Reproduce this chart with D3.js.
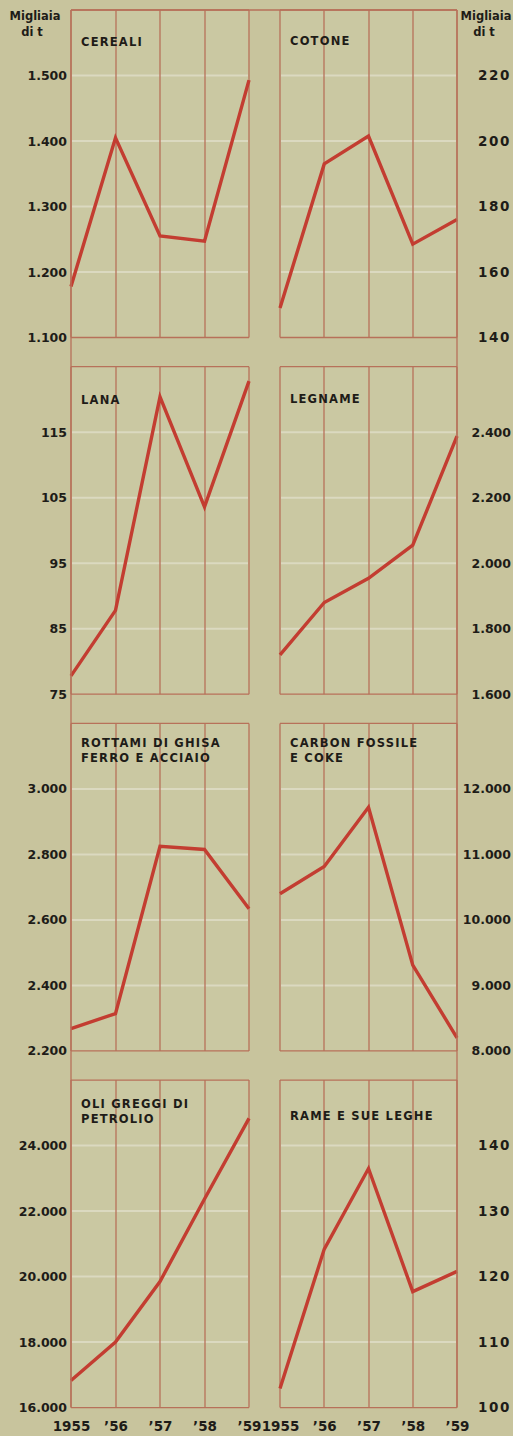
<!DOCTYPE html>
<html>
<head>
<meta charset="utf-8">
<script src="https://cdn.jsdelivr.net/npm/d3@7/dist/d3.min.js"></script>
<style>
  html, body { margin: 0; padding: 0; background: #c8c49d; }
  svg { display: block; }
</style>
</head>
<body>
<svg id="chart" width="513" height="1436"></svg>
<script>
// ---------- data ----------
const years = [1955, 1956, 1957, 1958, 1959];
const yearLabels = ["1955", "’56", "’57", "’58", "’59"];

const cereali  = [1178, 1405, 1255, 1247, 1493];
const cotone   = [149, 193, 201.5, 168.5, 176];
const lana     = [77.8, 87.8, 120.4, 103.6, 122.8];
const legname  = [1720, 1880, 1954, 2055, 2388];
const rottami  = [2268, 2314, 2825, 2815, 2634];
const carbone  = [10400, 10815, 11720, 9310, 8200];
const petrolio = [16830, 18000, 19850, 22370, 24830];
const rame     = [102.9, 124.2, 136.5, 117.7, 120.8];

const ticksCereali  = [1100, 1200, 1300, 1400, 1500];
const ticksCotone   = [140, 160, 180, 200, 220];
const ticksLana     = [75, 85, 95, 105, 115];
const ticksLegname  = [1600, 1800, 2000, 2200, 2400];
const ticksRottami  = [2200, 2400, 2600, 2800, 3000];
const ticksCarbone  = [8000, 9000, 10000, 11000, 12000];
const ticksPetrolio = [16000, 18000, 20000, 22000, 24000];
const ticksRame     = [100, 110, 120, 130, 140];

const titleCereali  = ["CEREALI"];
const titleCotone   = ["COTONE"];
const titleLana     = ["LANA"];
const titleLegname  = ["LEGNAME"];
const titleRottami  = ["ROTTAMI DI GHISA", "FERRO E ACCIAIO"];
const titleCarbone  = ["CARBON FOSSILE", "E COKE"];
const titlePetrolio = ["OLI GREGGI DI", "PETROLIO"];
const titleRame     = ["RAME E SUE LEGHE"];

const unitLabel = ["Migliaia", "di t"];

// ---------- layout ----------
const panels = [
  {row: 0, side: "L", values: cereali,  ticks: ticksCereali,  title: titleCereali,  titleY: 36},
  {row: 0, side: "R", values: cotone,   ticks: ticksCotone,   title: titleCotone,   titleY: 35},
  {row: 1, side: "L", values: lana,     ticks: ticksLana,     title: titleLana,     titleY: 37},
  {row: 1, side: "R", values: legname,  ticks: ticksLegname,  title: titleLegname,  titleY: 36},
  {row: 2, side: "L", values: rottami,  ticks: ticksRottami,  title: titleRottami,  titleY: 24},
  {row: 2, side: "R", values: carbone,  ticks: ticksCarbone,  title: titleCarbone,  titleY: 24},
  {row: 3, side: "L", values: petrolio, ticks: ticksPetrolio, title: titlePetrolio, titleY: 28},
  {row: 3, side: "R", values: rame,     ticks: ticksRame,     title: titleRame,     titleY: 40}
];

const rowTop0 = 10, rowStep = 356.7, panelH = 327.5;
const xRange = {L: [71, 249], R: [280, 457]};

const gridColor = "#b7715a";
const lineColor = "#c33d31";
const textColor = "#1e1c18";
const panelFill = "#cac8a2";
const fontFam = "'DejaVu Sans', sans-serif";

const itFmt = d3.formatLocale({decimal: ",", thousands: ".", grouping: [3], currency: ["", ""]}).format(",d");

const svg = d3.select("#chart");

panels.forEach(p => {
  const top = rowTop0 + p.row * rowStep;
  const bottom = top + panelH;
  const step = p.ticks[1] - p.ticks[0];
  const y = d3.scaleLinear()
    .domain([p.ticks[0], p.ticks[p.ticks.length - 1] + step])
    .range([bottom, top]);
  const x = d3.scaleLinear().domain([years[0], years[years.length - 1]]).range(xRange[p.side]);
  const x0 = x.range()[0], x1 = x.range()[1];

  const g = svg.append("g");

  g.append("rect")
    .attr("x", x0).attr("y", top)
    .attr("width", x1 - x0).attr("height", panelH)
    .attr("fill", panelFill);

  // faint white horizontal lines at tick levels
  g.selectAll(".hl").data(p.ticks.slice(1)).join("line")
    .attr("x1", x0 + 1).attr("x2", x1 - 1)
    .attr("y1", d => y(d)).attr("y2", d => y(d))
    .attr("stroke", "#ffffff").attr("stroke-opacity", 0.32).attr("stroke-width", 2);

  // vertical year grid lines (including panel edges)
  g.selectAll(".vl").data(years).join("line")
    .attr("x1", d => Math.round(x(d))).attr("x2", d => Math.round(x(d)))
    .attr("y1", top).attr("y2", bottom)
    .attr("stroke", gridColor).attr("stroke-width", 1.3);

  // top & bottom borders
  [top, bottom].forEach(yy => {
    g.append("line")
      .attr("x1", x0).attr("x2", x1)
      .attr("y1", yy).attr("y2", yy)
      .attr("stroke", gridColor).attr("stroke-width", 1.3);
  });

  // data line
  const line = d3.line().x((d, i) => x(years[i])).y(d => y(d));
  g.append("path")
    .datum(p.values)
    .attr("d", line)
    .attr("fill", "none")
    .attr("stroke", lineColor)
    .attr("stroke-width", 3.4)
    .attr("stroke-linejoin", "miter");

  // tick labels
  const threeDigitRight = p.side === "R" && p.ticks[p.ticks.length - 1] < 1000;
  const axis = (p.side === "L" ? d3.axisLeft(y) : d3.axisRight(y))
    .tickValues(p.ticks).tickFormat(itFmt).tickSize(0).tickPadding(0);
  const ag = svg.append("g")
    .attr("transform", `translate(${p.side === "L" ? 67 : 511},0)`)
    .call(axis);
  ag.select(".domain").remove();
  ag.selectAll("text")
    .attr("text-anchor", "end")
    .attr("x", 0)
    .attr("fill", textColor)
    .style("font-family", fontFam)
    .style("font-weight", "bold")
    .style("font-size", threeDigitRight ? "13.5px" : "12.5px")
    .style("letter-spacing", threeDigitRight ? "1.6px" : "0px");

  // title
  const t = g.append("text")
    .attr("x", x0 + 10)
    .attr("y", top + p.titleY)
    .attr("fill", textColor)
    .style("font-family", fontFam)
    .style("font-weight", "bold")
    .style("font-size", "11.5px")
    .style("letter-spacing", "1.2px");
  p.title.forEach((s, i) => {
    t.append("tspan").attr("x", x0 + 10).attr("dy", i === 0 ? 0 : 14.5).text(s);
  });
});

// outer lines
const lastBottom = rowTop0 + 3 * rowStep + panelH;
svg.append("line").attr("x1", 71).attr("x2", 71).attr("y1", rowTop0).attr("y2", lastBottom)
  .attr("stroke", gridColor).attr("stroke-width", 1.3);
svg.append("line").attr("x1", 457).attr("x2", 457).attr("y1", rowTop0).attr("y2", lastBottom)
  .attr("stroke", gridColor).attr("stroke-width", 1.3);
svg.append("line").attr("x1", 71).attr("x2", 457).attr("y1", rowTop0).attr("y2", rowTop0)
  .attr("stroke", gridColor).attr("stroke-width", 1.3);

// year labels
["L", "R"].forEach(side => {
  const x = d3.scaleLinear().domain([years[0], years[years.length - 1]]).range(xRange[side]);
  const xa = svg.append("g")
    .attr("transform", `translate(0,1431)`)
    .call(d3.axisBottom(x).tickValues(years).tickFormat((d, i) => yearLabels[i]).tickSize(0).tickPadding(0));
  xa.select(".domain").remove();
  xa.selectAll("text")
    .attr("y", 0).attr("dy", 0)
    .attr("fill", textColor)
    .style("font-family", fontFam)
    .style("font-weight", "bold")
    .style("font-size", "13.5px");
});

// unit labels
[0, 1].forEach(k => {
  const t = svg.append("text")
    .attr("fill", textColor)
    .attr("text-anchor", "middle")
    .style("font-family", fontFam)
    .style("font-weight", "bold")
    .style("font-size", "11.5px");
  t.append("tspan").attr("x", k === 0 ? 35 : 486).attr("y", 20).text(unitLabel[0]);
  t.append("tspan").attr("x", k === 0 ? 32 : 484).attr("y", 36).text(unitLabel[1]);
});
</script>
</body>
</html>
